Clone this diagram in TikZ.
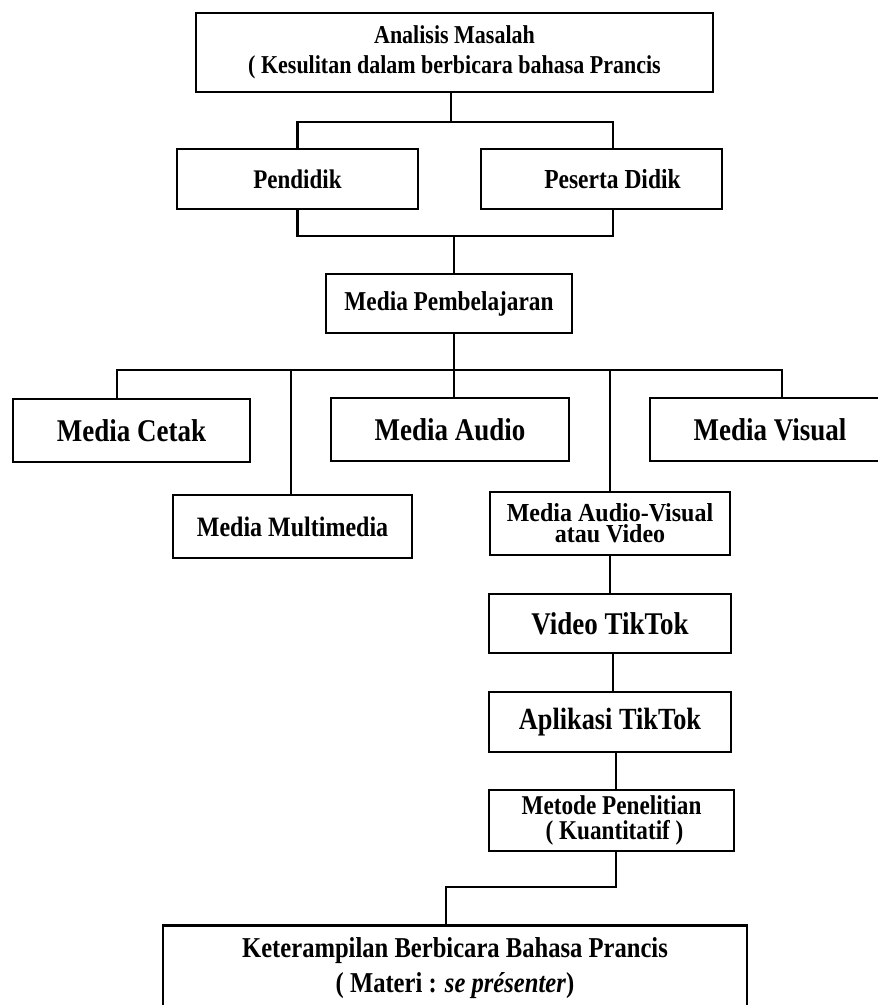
\documentclass[tikz,border=0pt]{standalone}
\usepackage{graphicx}
\usepackage{fontspec}
\setmainfont{Liberation Serif}
\newcommand{\sx}[1]{\scalebox{1}[1.17]{#1}}
\newcommand{\mlines}[4][1.17]{\scalebox{1}[#1]{\vbox{\baselineskip=#2pt\lineskiplimit=-100pt\halign{\hfil##\hfil\cr #3\cr #4\cr}}}}
\begin{document}
\begin{tikzpicture}[x=1pt,y=-1pt,
  box/.style={draw, line width=2.8pt, rectangle, inner sep=0pt},
  conn/.style={line width=2.2pt, line join=miter}]
\useasboundingbox (0,0) rectangle (878,1005);
\clip (0,0) rectangle (878,1005);
\fill[white] (0,0) rectangle (878,1005);
% nodes
\node[box, minimum width=517, minimum height=79, font=\bfseries\fontsize{22}{26}\selectfont] (top) at (454.5,52.5)
  {\mlines{25.6}{Analisis Masalah}{( Kesulitan dalam berbicara bahasa Prancis}};
\node[box, minimum width=241, minimum height=60, font=\bfseries\fontsize{23}{27}\selectfont] (pend) at (297.5,179) {\sx{Pendidik}};
\node[box, minimum width=241, minimum height=60, font=\bfseries\fontsize{23.5}{27}\selectfont] (pes) at (601.5,179) {\sx{\hspace{22pt}Peserta Didik}};
\node[box, minimum width=246, minimum height=59, font=\bfseries\fontsize{23.3}{27}\selectfont] (mp) at (449,303.5) {\sx{Media Pembelajaran}};
\node[box, minimum width=237, minimum height=63, font=\bfseries\fontsize{27}{31}\selectfont] (cetak) at (131.5,430.5) {\sx{Media Cetak}};
\node[box, minimum width=238, minimum height=63, font=\bfseries\fontsize{27}{31}\selectfont] (audio) at (450,429.5) {\sx{Media Audio}};
\node[box, minimum width=240, minimum height=63, font=\bfseries\fontsize{27}{31}\selectfont] (visual) at (770,429.5) {\sx{Media Visual}};
\node[box, minimum width=239, minimum height=63, font=\bfseries\fontsize{24}{28}\selectfont] (mm) at (292.5,526.5) {\sx{Media Multimedia}};
\node[box, minimum width=240, minimum height=63, font=\bfseries\fontsize{24}{28}\selectfont] (av) at (610,523.5) {\mlines[1.08]{19.6}{Media Audio-Visual}{atau Video}};
\node[box, minimum width=242, minimum height=59, font=\bfseries\fontsize{27}{31}\selectfont] (vt) at (610,623.5) {\sx{Video TikTok}};
\node[box, minimum width=242, minimum height=60, font=\bfseries\fontsize{26.3}{30}\selectfont] (app) at (610,722) {\sx{Aplikasi TikTok}};
\node[box, minimum width=245, minimum height=61, font=\bfseries\fontsize{23.2}{27}\selectfont] (met) at (611.5,820.5) {\mlines{21.4}{Metode Penelitian}{\hspace{6pt}( Kuantitatif )}};
\node[box, minimum width=584, anchor=north, font=\bfseries\fontsize{24.6}{29}\selectfont] (fin) at (455,924)
  {\rule{0pt}{67pt}\mlines{30}{Keterampilan Berbicara Bahasa Prancis}{( Materi : \textit{se présenter})}\rule[-70pt]{0pt}{0pt}};
% connectors
\coordinate (b1) at (451,122);
\draw[conn] (b1 |- top.south) -- (b1);
\draw[conn] (pend.north) |- (b1) -| ([xshift=11.5pt]pes.north);
\coordinate (b2) at (454,236);
\draw[conn] (pend.south) |- (b2) -| ([xshift=11.5pt]pes.south);
\draw[conn] (b2) -- (b2 |- mp.north);
\coordinate (b3) at (454,370);
\draw[conn] (b3 |- mp.south) -- (b3);
\coordinate (c1) at (117,370);
\coordinate (c2) at (291,370);
\coordinate (c4) at (610,370);
\coordinate (c5) at (782,370);
\draw[conn] (c1 |- cetak.north) -- (c1) -- (c5) -- (c5 |- visual.north);
\draw[conn] (c2) -- (c2 |- mm.north);
\draw[conn] (b3) -- (b3 |- audio.north);
\draw[conn] (c4) -- (c4 |- av.north);
\draw[conn] (av.south) -- (vt.north);
\draw[conn] ([xshift=3pt]vt.south) -- ([xshift=3pt]app.north);
\draw[conn] ([xshift=6pt]app.south) -- ([xshift=4.5pt]met.north);
\coordinate (e1) at (446,887);
\draw[conn] ([xshift=4.5pt]met.south) |- (e1) -- ([xshift=-9pt]fin.north);
\end{tikzpicture}
\end{document}
